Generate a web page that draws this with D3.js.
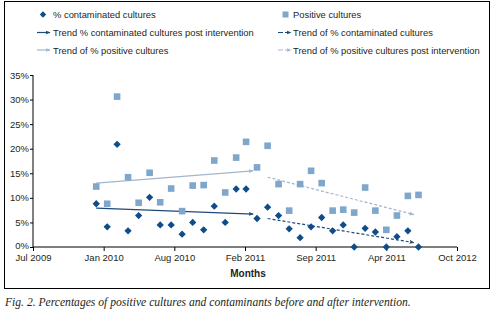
<!DOCTYPE html>
<html>
<head>
<meta charset="utf-8">
<script src="https://cdn.jsdelivr.net/npm/d3@7"></script>
<style>
  body { margin: 0; background: #fff; }
  text { font-family: "Liberation Sans", Arial, sans-serif; fill: #231f20; }
</style>
</head>
<body>
<svg id="chart" width="491" height="313"></svg>
<script>
// monthly values, Jan 2010 .. Jul 2012
var contaminated = [8.8, 4.1, 20.9, 3.3, 6.4, 10.1, 4.5, 4.5, 2.6, 5.0, 3.5, 8.3, 5.0, 11.8, 11.8,
                    5.8, 8.1, 6.4, 3.7, 1.9, 4.1, 6.0, 3.3, 4.5, 0, 3.8, 3.05, 0, 2.1, 3.3, 0];
var positive = [12.3, 8.8, 30.6, 14.2, 9.0, 15.1, 9.1, 11.9, 7.3, 12.5, 12.6, 17.6, 11.1, 18.2, 21.4,
                16.2, 20.6, 12.8, 7.4, 12.8, 15.5, 13.0, 7.4, 7.6, 7.0, 12.1, 7.4, 3.5, 6.4, 10.4, 10.6];

// trend lines: [start date, start value, end date, end value]
var trendContamPre  = [new Date(2010, 0, 1), 7.9, new Date(2011, 2, 21), 6.7];
var trendPositivePre = [new Date(2010, 0, 1), 13.0, new Date(2011, 2, 21), 15.5];
var trendContamPost = [new Date(2011, 4, 1), 5.8, new Date(2012, 5, 18), 0.9];
var trendPositivePost = [new Date(2011, 4, 1), 14.2, new Date(2012, 5, 18), 6.6];

var xTickDates = [new Date(2009, 6, 6), new Date(2010, 0, 22), new Date(2010, 7, 10), new Date(2011, 1, 26),
                  new Date(2011, 8, 14), new Date(2012, 3, 1), new Date(2012, 9, 18)];
var xTickLabels = ["Jul 2009", "Jan 2010", "Aug 2010", "Feb 2011", "Sep 2011", "Apr 2011", "Oct 2012"];
var yTicks = [0, 5, 10, 15, 20, 25, 30, 35];

var darkBlue = "#0f4c8a";
var lightBlue = "#7fa6cb";
var darkLine = "#1d4a78";
var lightLine = "#a3b6cd";

var svg = d3.select("#chart");

// frame around chart
svg.append("rect")
    .attr("x", 4.5).attr("y", 1.5)
    .attr("width", 485).attr("height", 287)
    .style("fill", "none")
    .style("stroke", "#000")
    .style("stroke-width", 1);

var x = d3.scaleTime()
    .domain([xTickDates[0], xTickDates[xTickDates.length - 1]])
    .range([33, 457]);
var y = d3.scaleLinear()
    .domain([0, 35])
    .range([247, 75]);

// arrow markers
var defs = svg.append("defs");
function addArrow(id, color) {
  defs.append("marker")
      .attr("id", id)
      .attr("viewBox", "0 0 10 10")
      .attr("refX", 9).attr("refY", 5)
      .attr("markerWidth", 5).attr("markerHeight", 5)
      .attr("markerUnits", "userSpaceOnUse")
      .attr("orient", "auto")
    .append("path")
      .attr("d", "M0,1 L10,5 L0,9 L2,5 Z")
      .style("fill", color);
}
addArrow("arrDark", darkLine);
addArrow("arrLight", lightLine);

// axes
var yAxis = d3.axisLeft(y)
    .tickValues(yTicks)
    .tickSize(3)
    .tickFormat(function(d) { return d + "%"; });
var gy = svg.append("g").attr("transform", "translate(33,0)").call(yAxis);
gy.select(".domain").attr("d", "M0," + y(35) + "V" + y(0));
gy.selectAll("text").style("font-size", "9.5px").attr("x", -4).style("fill", "#231f20");
gy.selectAll(".tick").filter(function(d) { return d === 0; }).select("text").attr("dy", "0.2em");
gy.selectAll("line, path").style("stroke", "#000");

var xAxis = d3.axisBottom(x)
    .tickValues(xTickDates)
    .tickSize(4)
    .tickFormat(function(d, i) { return xTickLabels[i]; });
var gx = svg.append("g").attr("transform", "translate(0,247)").call(xAxis);
gx.select(".domain").attr("d", "M" + x.range()[0] + ",0H" + x.range()[1]);
gx.selectAll("text").style("font-size", "9.5px").attr("y", 7).style("fill", "#231f20");
gx.selectAll("line, path").style("stroke", "#000");

svg.append("text")
    .attr("x", 248).attr("y", 277)
    .attr("text-anchor", "middle")
    .style("font-size", "10px")
    .style("font-weight", "bold")
    .text("Months");

// trend lines
function drawTrend(t, color, marker, dash) {
  svg.append("line")
      .attr("x1", x(t[0])).attr("y1", y(t[1]))
      .attr("x2", x(t[2])).attr("y2", y(t[3]))
      .style("stroke", color)
      .style("stroke-width", 1.2)
      .style("stroke-dasharray", dash)
      .attr("marker-end", "url(#" + marker + ")");
}
drawTrend(trendPositivePre, lightLine, "arrLight", null);
drawTrend(trendContamPre, darkLine, "arrDark", null);
drawTrend(trendPositivePost, lightLine, "arrLight", "3,2");
drawTrend(trendContamPost, darkLine, "arrDark", "3,2");

var months = positive.map(function(d, i) { return new Date(2010, i, 1); });

// positive cultures (squares)
svg.append("g").selectAll("rect")
    .data(positive)
    .enter()
    .append("rect")
    .attr("x", function(d, i) { return x(months[i]) - 3.3; })
    .attr("y", function(d) { return y(d) - 3.3; })
    .attr("width", 6.6).attr("height", 6.6)
    .style("fill", lightBlue);

// contaminated cultures (diamonds)
var diamond = d3.symbol().type(d3.symbolDiamond2).size(34);
svg.append("g").selectAll("path")
    .data(contaminated)
    .enter()
    .append("path")
    .attr("d", diamond)
    .attr("transform", function(d, i) { return "translate(" + x(months[i]) + "," + y(d) + ")"; })
    .style("fill", darkBlue);

// legend
var legend = svg.append("g").style("font-size", "9.4px");
legend.append("path").attr("d", d3.symbol().type(d3.symbolDiamond2).size(26))
    .attr("transform", "translate(43,14.5)").style("fill", darkBlue);
legend.append("text").attr("x", 53).attr("y", 18).text("% contaminated cultures");
legend.append("rect").attr("x", 282.5).attr("y", 11.5).attr("width", 6).attr("height", 6).style("fill", lightBlue);
legend.append("text").attr("x", 293).attr("y", 18).text("Positive cultures");

function legendLine(x1, x2, yy, color, marker, dash) {
  legend.append("line")
      .attr("x1", x1).attr("y1", yy).attr("x2", x2).attr("y2", yy)
      .style("stroke", color).style("stroke-width", 1.2)
      .style("stroke-dasharray", dash)
      .attr("marker-end", "url(#" + marker + ")");
}
legendLine(37, 50, 32.5, darkLine, "arrDark", null);
legend.append("text").attr("x", 53).attr("y", 36).text("Trend % contaminated cultures post intervention");
legendLine(278, 291, 32.5, darkLine, "arrDark", "5,2");
legend.append("text").attr("x", 293).attr("y", 36).text("Trend of % contaminated cultures");
legendLine(37, 50, 50, lightLine, "arrLight", null);
legend.append("text").attr("x", 53).attr("y", 53.5).text("Trend of % positive cultures");
legendLine(278, 291, 50, lightLine, "arrLight", "5,2");
legend.append("text").attr("x", 293).attr("y", 53.5).text("Trend of % positive cultures post intervention");

// caption
svg.append("text")
    .attr("x", 5).attr("y", 306)
    .style("font-family", "'Liberation Serif', 'Times New Roman', serif")
    .style("font-style", "italic")
    .style("font-size", "11.6px")
    .text("Fig. 2. Percentages of positive cultures and contaminants before and after intervention.");
</script>
</body>
</html>
